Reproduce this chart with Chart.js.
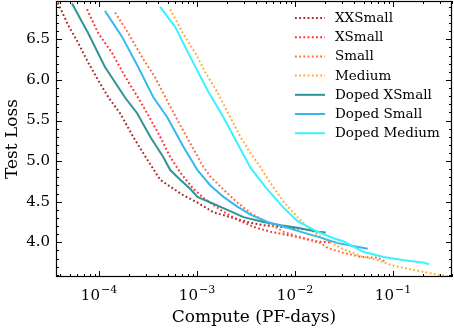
<!DOCTYPE html>
<html>
<head>
<meta charset="utf-8">
<script src="https://cdn.jsdelivr.net/npm/chart.js@4"></script>
<style>
  html, body { margin: 0; padding: 0; background: #fff; }
</style>
</head>
<body>
<canvas id="lossChart" width="454" height="330"></canvas>
<script>
// values (compute in PF-days, test loss)
const seriesNames = ['XXSmall', 'XSmall', 'Small', 'Medium', 'Doped XSmall', 'Doped Small', 'Doped Medium'];

const xxsmallCompute = [3.80e-5, 4.82e-5, 6.10e-5, 7.71e-5, 9.77e-5, 1.24e-4, 1.64e-4, 2.23e-4, 3.10e-4, 4.21e-4, 5.58e-4, 7.24e-4, 1.01e-3, 1.47e-3, 2.19e-3, 3.27e-3, 4.78e-3, 7.13e-3, 1.14e-2, 1.28e-2];
const xxsmallLoss = [6.95, 6.68, 6.46, 6.22, 6.00, 5.79, 5.59, 5.30, 5.02, 4.77, 4.67, 4.58, 4.49, 4.37, 4.31, 4.25, 4.21, 4.19, 4.17, 4.15];

const xsmallCompute = [7.54e-5, 9.77e-5, 1.36e-4, 1.85e-4, 2.51e-4, 3.10e-4, 4.21e-4, 5.33e-4, 6.74e-4, 9.16e-4, 1.16e-3, 1.73e-3, 2.58e-3, 3.77e-3, 5.62e-3, 8.40e-3, 1.22e-2, 1.70e-2, 2.31e-2];
const xsmallLoss = [6.87, 6.58, 6.33, 6.04, 5.78, 5.59, 5.30, 5.05, 4.86, 4.66, 4.55, 4.40, 4.28, 4.19, 4.13, 4.09, 4.05, 4.01, 4.00];

const smallCompute = [1.46e-4, 1.98e-4, 2.75e-4, 3.74e-4, 4.74e-4, 6.29e-4, 8.53e-4, 1.16e-3, 1.37e-3, 1.86e-3, 2.58e-3, 3.51e-3, 5.25e-3, 7.64e-3, 1.22e-2, 1.83e-2, 2.16e-2, 3.14e-2, 4.69e-2, 7.00e-2, 8.45e-2];
const smallLoss = [6.83, 6.58, 6.28, 6.03, 5.79, 5.51, 5.22, 4.93, 4.81, 4.65, 4.49, 4.36, 4.24, 4.13, 4.05, 3.99, 3.93, 3.87, 3.82, 3.81, 3.76];

const mediumCompute = [5.33e-4, 7.08e-4, 9.61e-4, 1.22e-3, 1.61e-3, 2.19e-3, 2.77e-3, 3.51e-3, 4.14e-3, 5.62e-3, 7.64e-3, 1.06e-2, 1.45e-2, 1.83e-2, 2.93e-2, 4.69e-2, 7.00e-2, 9.51e-2, 0.164, 0.288, 0.410];
const mediumLoss = [6.87, 6.59, 6.33, 6.09, 5.85, 5.54, 5.30, 5.10, 4.98, 4.73, 4.50, 4.31, 4.15, 4.07, 3.93, 3.83, 3.78, 3.72, 3.66, 3.60, 3.57];

const dopedXsmallCompute = [5.30e-5, 7.71e-5, 1.15e-4, 1.85e-4, 2.45e-4, 3.33e-4, 4.52e-4, 5.33e-4, 6.74e-4, 8.53e-4, 1.01e-3, 1.37e-3, 2.04e-3, 2.98e-3, 4.78e-3, 7.13e-3, 1.06e-2, 1.70e-2, 2.06e-2];
const dopedXsmallLoss = [6.94, 6.58, 6.16, 5.78, 5.59, 5.30, 5.05, 4.89, 4.77, 4.66, 4.56, 4.49, 4.40, 4.31, 4.25, 4.21, 4.18, 4.13, 4.12];

const dopedSmallCompute = [1.15e-4, 1.72e-4, 2.51e-4, 3.57e-4, 4.97e-4, 7.24e-4, 1.01e-3, 1.37e-3, 1.86e-3, 2.58e-3, 3.51e-3, 5.25e-3, 8.40e-3, 1.22e-2, 1.70e-2, 2.73e-2, 5.04e-2, 5.53e-2];
const dopedSmallLoss = [6.85, 6.53, 6.16, 5.79, 5.54, 5.18, 4.89, 4.70, 4.56, 4.44, 4.34, 4.25, 4.18, 4.12, 4.07, 3.99, 3.93, 3.92];

const dopedMediumCompute = [4.21e-4, 6.00e-4, 8.15e-4, 1.13e-3, 1.31e-3, 1.86e-3, 2.58e-3, 3.51e-3, 5.00e-3, 7.46e-3, 1.06e-2, 1.70e-2, 2.48e-2, 3.14e-2, 5.04e-2, 8.07e-2, 0.129, 0.207, 0.233];
const dopedMediumLoss = [6.90, 6.65, 6.33, 6.00, 5.85, 5.54, 5.22, 4.92, 4.68, 4.44, 4.26, 4.13, 4.05, 4.01, 3.88, 3.82, 3.78, 3.75, 3.73];

const xTickValues = [1e-4, 1e-3, 1e-2, 1e-1];
const yTickValues = [4.0, 4.5, 5.0, 5.5, 6.0, 6.5];

const computes = [xxsmallCompute, xsmallCompute, smallCompute, mediumCompute, dopedXsmallCompute, dopedSmallCompute, dopedMediumCompute];
const losses = [xxsmallLoss, xsmallLoss, smallLoss, mediumLoss, dopedXsmallLoss, dopedSmallLoss, dopedMediumLoss];
const colors = ['#a82828', '#ff3030', '#ff6a3d', '#ffaa33', '#2e9494', '#35b9ef', '#3af2ff'];
const dotted = [true, true, true, true, false, false, false];

const serif = '"DejaVu Serif", "Liberation Serif", serif';

const datasets = seriesNames.map((name, i) => ({
    label: name,
    data: computes[i].map((c, j) => ({ x: c, y: losses[i][j] })),
    borderColor: colors[i],
    backgroundColor: colors[i],
    borderWidth: 2,
    borderDash: dotted[i] ? [1.8, 2.4] : [],
    pointRadius: 0,
    tension: 0,
    fill: false,
    order: seriesNames.length - 1 - i
}));

// frame, inward ticks on all sides, x labels with exponents, legend
const decorations = {
    id: 'decorations',
    afterDatasetsDraw(chart) {
        const { ctx, chartArea: a, scales: { x, y } } = chart;
        ctx.save();
        ctx.strokeStyle = '#000';
        ctx.lineWidth = 1.2;
        ctx.setLineDash([]);
        ctx.strokeRect(a.left + 0.5, a.top + 0.5, a.right - a.left - 1, a.bottom - a.top - 1);

        ctx.lineWidth = 1;
        ctx.beginPath();
        for (let k = -6; k <= 1; k++) {
            for (let m = 1; m <= 9; m++) {
                const v = m * Math.pow(10, k);
                if (v < x.min || v > x.max) continue;
                const px = Math.round(x.getPixelForValue(v)) + 0.5;
                const len = m === 1 ? 6 : 3;
                ctx.moveTo(px, a.bottom);
                ctx.lineTo(px, a.bottom - len);
                ctx.moveTo(px, a.top);
                ctx.lineTo(px, a.top + len);
            }
        }
        for (let i = Math.ceil(y.min * 10); i <= Math.floor(y.max * 10); i++) {
            const py = Math.round(y.getPixelForValue(i / 10)) + 0.5;
            const len = i % 5 === 0 ? 6 : 3;
            ctx.moveTo(a.left, py);
            ctx.lineTo(a.left + len, py);
            ctx.moveTo(a.right, py);
            ctx.lineTo(a.right - len, py);
        }
        ctx.stroke();

        // x tick labels: 10 with a raised exponent
        ctx.fillStyle = '#000';
        ctx.textBaseline = 'alphabetic';
        xTickValues.forEach(v => {
            const base = '10';
            const exp = '\u2212' + Math.abs(Math.round(Math.log10(v)));
            ctx.font = '15px ' + serif;
            const wb = ctx.measureText(base).width;
            ctx.font = '11px ' + serif;
            const we = ctx.measureText(exp).width;
            const cx = x.getPixelForValue(v);
            const left = cx - (wb + we + 1) / 2;
            ctx.font = '15px ' + serif;
            ctx.fillText(base, left, a.bottom + 23);
            ctx.font = '11px ' + serif;
            ctx.fillText(exp, left + wb + 1, a.bottom + 16);
        });

        // legend
        ctx.font = '13.5px ' + serif;
        ctx.textBaseline = 'middle';
        chart.data.datasets.forEach((ds, i) => {
            const ry = a.top + 17 + i * 19.2;
            ctx.strokeStyle = ds.borderColor;
            ctx.lineWidth = 2;
            ctx.setLineDash(ds.borderDash);
            ctx.beginPath();
            ctx.moveTo(a.right - 157, ry);
            ctx.lineTo(a.right - 127, ry);
            ctx.stroke();
            ctx.fillStyle = '#000';
            ctx.fillText(ds.label, a.right - 117, ry + 0.5);
        });
        ctx.restore();
    }
};

new Chart(document.getElementById('lossChart'), {
    type: 'line',
    data: { datasets },
    options: {
        responsive: false,
        animation: false,
        layout: { padding: { left: 0, right: 2, top: 1, bottom: 0 } },
        plugins: {
            legend: { display: false },
            tooltip: { enabled: false }
        },
        scales: {
            x: {
                type: 'logarithmic',
                min: 3.64e-5,
                max: 0.4,
                grid: { display: false },
                border: { display: false },
                ticks: { display: false },
                afterBuildTicks: scale => { scale.ticks = xTickValues.map(v => ({ value: v })); },
                afterFit: scale => {
                    scale.height = 53;
                    scale.paddingLeft = 0;
                    scale.paddingRight = 0;
                },
                title: {
                    display: true,
                    text: 'Compute (PF-days)',
                    color: '#000',
                    font: { family: serif, size: 17 },
                    padding: { top: 0, bottom: 2 }
                }
            },
            y: {
                type: 'linear',
                min: 3.573,
                max: 6.972,
                grid: { display: false, drawTicks: false },
                border: { display: false },
                afterBuildTicks: scale => { scale.ticks = yTickValues.map(v => ({ value: v })); },
                afterFit: scale => {
                    scale.width = 56;
                    scale.paddingTop = 0;
                    scale.paddingBottom = 0;
                },
                ticks: {
                    color: '#000',
                    padding: 6,
                    font: { family: serif, size: 15 },
                    callback: v => v.toFixed(1)
                },
                title: {
                    display: true,
                    text: 'Test Loss',
                    color: '#000',
                    font: { family: serif, size: 17 },
                    padding: { top: 2, bottom: 0 }
                }
            }
        }
    },
    plugins: [decorations]
});
</script>
</body>
</html>
